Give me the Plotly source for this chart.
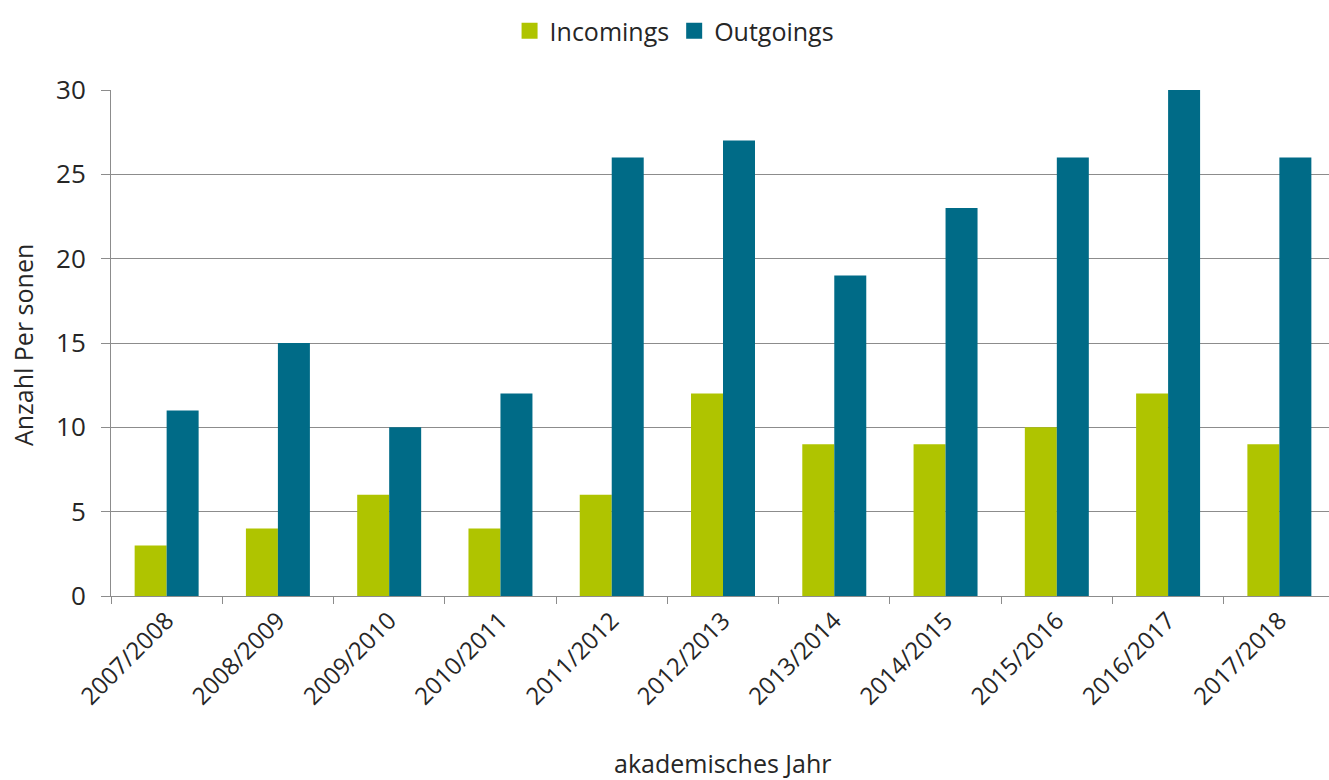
import plotly.graph_objects as go

# Academic years and exchange counts
years = ["2007/2008", "2008/2009", "2009/2010", "2010/2011", "2011/2012", "2012/2013",
         "2013/2014", "2014/2015", "2015/2016", "2016/2017", "2017/2018"]
incomings = [3, 4, 6, 4, 6, 12, 9, 9, 10, 12, 9]
outgoings = [11, 15, 10, 12, 26, 27, 19, 23, 26, 30, 26]
series_names = ["Incomings", "Outgoings"]

GREEN = "#afc400"
BLUE = "#006b87"
GRID = "#8c8c8c"
TEXT = "#262626"
FONT = "Open Sans, Liberation Sans, sans-serif"

fig = go.Figure()
for name, vals, col in zip(series_names, [incomings, outgoings], [GREEN, BLUE]):
    fig.add_trace(go.Bar(name=name, x=years, y=vals, marker_color=col,
                         marker_line_width=0, showlegend=False))
    # legend swatch with a larger square marker
    fig.add_trace(go.Scatter(name=name, x=[years[0]], y=[None], mode="markers",
                             marker=dict(symbol="square", size=16, color=col),
                             showlegend=True, hoverinfo="skip"))

fig.update_layout(
    width=1329, height=780,
    margin=dict(l=111, r=0, t=90, b=184),
    paper_bgcolor="white", plot_bgcolor="white",
    barmode="group", bargap=0.425, bargroupgap=0,
    font=dict(family=FONT, size=24, color=TEXT),
    legend=dict(orientation="h", x=0.4627, xanchor="center", y=1.1166, yanchor="middle",
                font=dict(size=25), itemwidth=30, tracegroupgap=0,
                bgcolor="rgba(0,0,0,0)"),
)

fig.update_xaxes(
    type="category", range=[-0.5, 10.446],
    tickson="boundaries", ticks="outside", ticklen=7, tickcolor=GRID, tickwidth=1,
    tickangle=-45, tickfont=dict(size=24),
    showline=True, linecolor=GRID, linewidth=1,
    showgrid=False,
)
fig.update_yaxes(
    range=[0, 30], tickvals=[0, 5, 10, 15, 20, 25, 30],
    ticks="outside", ticklen=9, tickcolor=GRID, tickwidth=1,
    ticklabelstandoff=10, tickfont=dict(size=26),
    showline=True, linecolor=GRID, linewidth=1,
    showgrid=True, gridcolor=GRID, gridwidth=1,
    zeroline=False,
)

# Axis titles
fig.add_annotation(text="Anzahl Per sonen", xref="paper", yref="paper",
                   x=-0.0722, y=0.496, xanchor="center", yanchor="middle",
                   textangle=-90, showarrow=False, font=dict(size=25))
fig.add_annotation(text="akademisches Jahr", xref="paper", yref="paper",
                   x=0.5025, y=-0.33, xanchor="center", yanchor="middle",
                   showarrow=False, font=dict(size=25))

fig.write_html("out.html")
